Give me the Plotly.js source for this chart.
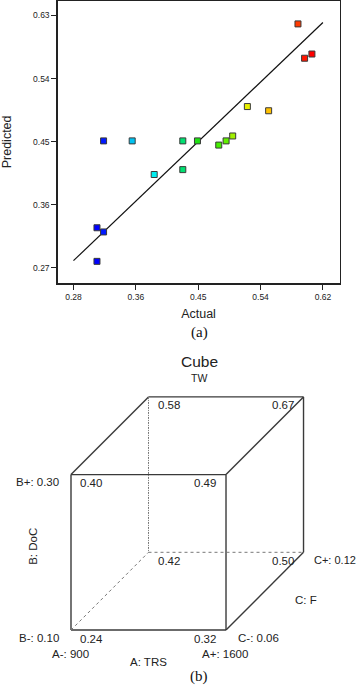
<!DOCTYPE html>
<html>
<head>
<meta charset="utf-8">
<script src="https://cdn.plot.ly/plotly-3.0.1.min.js"></script>
<style>html,body{margin:0;padding:0;background:#fff;}#chart{width:357px;height:686px;}</style>
</head>
<body>
<div id="chart"></div>
<script>
// ---- Panel (a): Predicted vs Actual ----
const actual = [0.312, 0.312, 0.321, 0.321, 0.360, 0.390, 0.429, 0.429, 0.449, 0.478, 0.488, 0.497, 0.517, 0.546, 0.586, 0.595, 0.605];
const predicted = [0.279, 0.327, 0.321, 0.451, 0.451, 0.403, 0.410, 0.451, 0.451, 0.445, 0.451, 0.458, 0.500, 0.494, 0.618, 0.569, 0.575];
const lineX = [0.28, 0.62];
const lineY = [0.28, 0.62];
const xTickVals = [0.28, 0.365, 0.45, 0.535, 0.62];
const xTickText = ['0.28', '0.36', '0.45', '0.54', '0.62'];
const yTickVals = [0.27, 0.36, 0.45, 0.54, 0.63];
const yTickText = ['0.27', '0.36', '0.45', '0.54', '0.63'];

// ---- Panel (b): Cube plot of TW ----
const factorNames = ['A: TRS', 'B: DoC', 'C: F'];
const aLevels = ['900', '1600'];
const bLevels = ['0.10', '0.30'];
const cLevels = ['0.06', '0.12'];
// corners in standard order: (A,B,C) coded
const cornerA = [-1, 1, -1, 1, -1, 1, -1, 1];
const cornerB = [-1, -1, 1, 1, -1, -1, 1, 1];
const cornerC = [-1, -1, -1, -1, 1, 1, 1, 1];
const cornerTW = ['0.24', '0.32', '0.40', '0.49', '0.42', '0.50', '0.58', '0.67'];

const W = 357, H = 686;
const FONT = 'Liberation Sans, Arial, sans-serif';
const INK = '#222';
function px(x) { return x / W; }
function py(y) { return 1 - y / H; }

// oblique projection of coded cube coordinates
const depth = 0.5;
function projX(a, c) { return a + depth * (c + 1); }
function projY(b, c) { return b + depth * (c + 1); }
function edge(p, q, style) {
  return {
    x: [projX(p[0], p[2]), projX(q[0], q[2])],
    y: [projY(p[1], p[2]), projY(q[1], q[2])],
    xaxis: 'x2', yaxis: 'y2', mode: 'lines', hoverinfo: 'skip',
    line: style
  };
}
const solid = { color: '#3a3a3a', width: 1.4 };
const hidden = { color: '#777', width: 1, dash: 'dot' };
const hiddenDashDot = { color: '#777', width: 1, dash: '2px,1px,1px,1px' };
const edges = [
  [[-1,-1,-1],[1,-1,-1],solid], [[1,-1,-1],[1,1,-1],solid], [[1,1,-1],[-1,1,-1],solid], [[-1,1,-1],[-1,-1,-1],solid],
  [[-1,1,-1],[-1,1,1],solid], [[-1,1,1],[1,1,1],solid], [[1,1,-1],[1,1,1],solid],
  [[1,1,1],[1,-1,1],solid], [[1,-1,-1],[1,-1,1],solid],
  [[-1,1,1],[-1,-1,1],hiddenDashDot], [[-1,-1,1],[1,-1,1],hidden], [[-1,-1,-1],[-1,-1,1],hidden]
];

const traces = [
  {
    x: lineX, y: lineY, mode: 'lines', xaxis: 'x', yaxis: 'y',
    line: { color: '#111', width: 1.2 }, hoverinfo: 'skip'
  },
  {
    x: actual, y: predicted, mode: 'markers', xaxis: 'x', yaxis: 'y',
    marker: {
      symbol: 'square', size: 6,
      color: actual, cmin: 0.312, cmax: 0.605,
      colorscale: [[0, '#0000ff'], [0.04, '#0020ff'], [0.16, '#00c0f0'], [0.27, '#00f0f0'],
                   [0.40, '#00e070'], [0.47, '#20e010'], [0.56, '#40f000'], [0.60, '#60f000'],
                   [0.63, '#a0f000'], [0.70, '#e8f000'], [0.80, '#ffc000'], [0.93, '#ff4000'],
                   [0.97, '#ff1000'], [1, '#ff0000']],
      showscale: false,
      line: { color: '#3a3a3a', width: 1 }
    }
  }
];
edges.forEach(e => traces.push(edge(e[0], e[1], e[2])));

const annotations = [];
// corner values
for (let i = 0; i < cornerTW.length; i++) {
  annotations.push({
    xref: 'x2', yref: 'y2',
    x: projX(cornerA[i], cornerC[i]), y: projY(cornerB[i], cornerC[i]),
    text: cornerTW[i], showarrow: false,
    xanchor: 'center', yanchor: 'middle',
    xshift: cornerA[i] < 0 ? 20 : -21, yshift: -8.5,
    font: { family: FONT, size: 11.5, color: INK }
  });
}
function cubeLabel(a, b, c, text, opts) {
  annotations.push(Object.assign({
    xref: 'x2', yref: 'y2', x: projX(a, c), y: projY(b, c),
    text: text, showarrow: false, xanchor: 'center', yanchor: 'middle',
    font: { family: FONT, size: 11.5, color: INK }
  }, opts));
}
cubeLabel(-1, 1, -1, 'B+: ' + bLevels[1], { xanchor: 'right', xshift: -10, yshift: -7 });
cubeLabel(-1, -1, -1, 'B-: ' + bLevels[0], { xanchor: 'right', xshift: -10, yshift: -7.5 });
cubeLabel(-1, 0, -1, factorNames[1], { textangle: -90, xshift: -38, yshift: 5.5 });
cubeLabel(-1, -1, -1, 'A-: ' + aLevels[0], { xshift: -1, yshift: -23.5 });
cubeLabel(0, -1, -1, factorNames[0], { xshift: 0, yshift: -31.5 });
cubeLabel(1, -1, -1, 'A+: ' + aLevels[1], { xshift: -1, yshift: -23.5 });
cubeLabel(1, -1, -1, 'C-: ' + cLevels[0], { xanchor: 'left', xshift: 10, yshift: -7.5 });
cubeLabel(1, -1, 0, factorNames[2], { xshift: 41, yshift: -9 });
cubeLabel(1, -1, 1, 'C+: ' + cLevels[1], { xanchor: 'left', xshift: 8, yshift: -8, font: { family: FONT, size: 11, color: INK } });

// titles / captions
annotations.push({ xref: 'paper', yref: 'paper', x: px(199), y: py(361.5), text: 'Cube', showarrow: false,
  xanchor: 'center', yanchor: 'middle', font: { family: FONT, size: 15.5, color: INK } });
annotations.push({ xref: 'paper', yref: 'paper', x: px(199), y: py(377.5), text: 'TW', showarrow: false,
  xanchor: 'center', yanchor: 'middle', font: { family: FONT, size: 10.5, color: INK } });
annotations.push({ xref: 'paper', yref: 'paper', x: px(199.5), y: py(332.5), text: '(a)', showarrow: false,
  xanchor: 'center', yanchor: 'middle', font: { family: 'Liberation Serif, Times New Roman, serif', size: 15, color: '#111' } });
annotations.push({ xref: 'paper', yref: 'paper', x: px(199), y: py(676.5), text: '(b)', showarrow: false,
  xanchor: 'center', yanchor: 'middle', font: { family: 'Liberation Serif, Times New Roman, serif', size: 15, color: '#111' } });

const layout = {
  width: W, height: H,
  margin: { l: 0, r: 0, t: 0, b: 0 },
  paper_bgcolor: '#fff', plot_bgcolor: 'rgba(0,0,0,0)',
  showlegend: false,
  font: { family: FONT, color: INK },
  xaxis: {
    domain: [px(57.5), px(339.5)], anchor: 'y',
    range: [0.2582, 0.6426],
    tickvals: xTickVals, ticktext: xTickText,
    ticks: 'outside', ticklen: 5, tickwidth: 1, tickcolor: INK,
    showline: true, mirror: true, linecolor: INK, linewidth: 1.2,
    showgrid: false, zeroline: false,
    tickfont: { family: FONT, size: 8.5, color: INK },
    title: { text: 'Actual', font: { family: FONT, size: 12.5, color: INK }, standoff: 8 }
  },
  yaxis: {
    domain: [1 - 283.3 / H, 1 - 0.5 / H], anchor: 'x',
    range: [0.2477, 0.6514],
    tickvals: yTickVals, ticktext: yTickText,
    ticks: 'outside', ticklen: 5, tickwidth: 1, tickcolor: INK,
    showline: true, mirror: true, linecolor: INK, linewidth: 1.2,
    showgrid: false, zeroline: false,
    tickfont: { family: FONT, size: 8.5, color: INK },
    title: { text: 'Predicted', font: { family: FONT, size: 12.5, color: INK }, standoff: 19 }
  },
  xaxis2: { domain: [0, 1], anchor: 'y2', range: [-1.916, 2.690], visible: false, fixedrange: true },
  yaxis2: { domain: [0, 1 - 340 / H], anchor: 'x2', range: [-1.7207, 2.7323], visible: false, fixedrange: true },
  annotations: annotations
};

Plotly.newPlot('chart', traces, layout, { staticPlot: true, displayModeBar: false });
</script>
</body>
</html>
